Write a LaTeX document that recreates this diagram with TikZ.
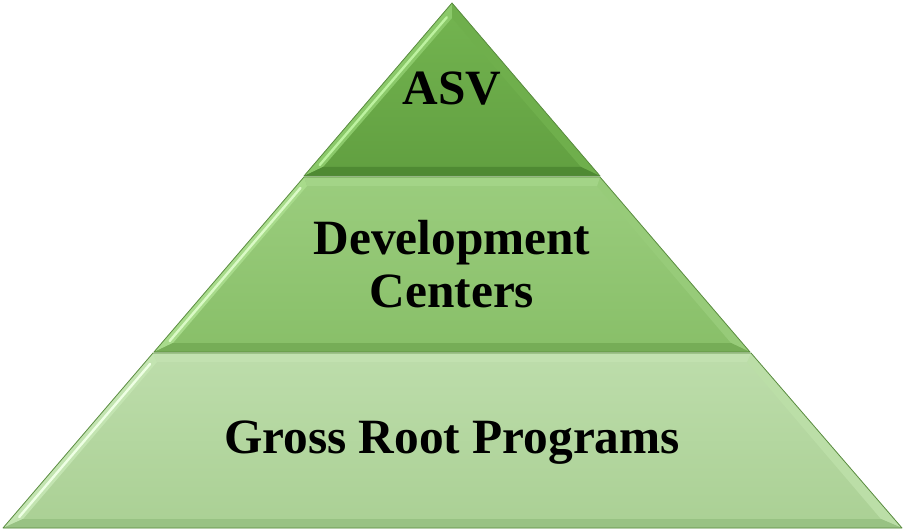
\documentclass[tikz,border=0pt]{standalone}
\usepackage{fontspec}
\setmainfont{Liberation Serif}
\usetikzlibrary{positioning,calc}
\definecolor{edgegreen}{HTML}{5A8C40}
\definecolor{atop}{HTML}{74B551}
\definecolor{abot}{HTML}{619F40}
\definecolor{alft}{HTML}{8BC96A}
\definecolor{argt}{HTML}{6FAF4C}
\definecolor{abtm}{HTML}{4F8A33}
\definecolor{atp}{HTML}{7DBD5A}
\definecolor{ahi}{HTML}{BDF2A0}
\definecolor{btop}{HTML}{9BCD7E}
\definecolor{bbot}{HTML}{88BF68}
\definecolor{blft}{HTML}{A8DB8B}
\definecolor{brgt}{HTML}{97CB79}
\definecolor{bbtm}{HTML}{76AD57}
\definecolor{btp}{HTML}{A3D487}
\definecolor{bhi}{HTML}{DAFAC6}
\definecolor{ctop}{HTML}{BDDDAB}
\definecolor{cbot}{HTML}{AAD094}
\definecolor{clft}{HTML}{C3E4B1}
\definecolor{crgt}{HTML}{BBDEA7}
\definecolor{cbtm}{HTML}{98C283}
\definecolor{ctp}{HTML}{C2E1B0}
\definecolor{chi}{HTML}{EEFFE4}
\tikzstyle{tier} = [draw=edgegreen, line width=0.6pt, line join=round]
\tikzstyle{label} = [font=\fontsize{37}{40}\selectfont\bfseries, align=center, text=black, inner sep=0pt]
% one bevelled layer: #1 = coordinate prefix, #2 = colour prefix
\newcommand{\pyrlayer}[2]{%
  \shade[top color=#2top, bottom color=#2bot] (#1otl) -- (#1otr) -- (#1obr) -- (#1obl) -- cycle;
  \fill[#2lft] (#1otl) -- (#1itl) -- (#1ibl) -- (#1obl) -- cycle;
  \fill[#2rgt] (#1otr) -- (#1itr) -- (#1ibr) -- (#1obr) -- cycle;
  \fill[#2btm] (#1obl) -- (#1ibl) -- (#1ibr) -- (#1obr) -- cycle;
  \fill[#2tp] (#1otl) -- (#1itl) -- (#1itr) -- (#1otr) -- cycle;
  \draw[#2hi, line width=1.8pt, line cap=round, shorten <=6pt, shorten >=6pt] ($(#1obl)!0.55!(#1ibl)$) -- ($(#1otl)!0.55!(#1itl)$);
  \draw[tier] (#1otl) -- (#1otr) -- (#1obr) -- (#1obl) -- cycle;
}

\begin{document}
\begin{tikzpicture}[x=0.75pt, y=-0.75pt]
\useasboundingbox (0,0) rectangle (904,531);
% Top layer (triangle)
    \coordinate (aotl) at (452,3);   \coordinate (aotr) at (452,3);
    \coordinate (aobl) at (304,176); \coordinate (aobr) at (600,176);
    \coordinate (aitl) at (452,18);  \coordinate (aitr) at (452,18);
    \coordinate (aibl) at (323,167); \coordinate (aibr) at (581,167);
% Middle layer
    \coordinate (botl) at (304,177); \coordinate (botr) at (600,177);
    \coordinate (bobl) at (154,352); \coordinate (bobr) at (750,352);
    \coordinate (bitl) at (307,186); \coordinate (bitr) at (597,186);
    \coordinate (bibl) at (173,343); \coordinate (bibr) at (731,343);
% Bottom layer
    \coordinate (cotl) at (153,353); \coordinate (cotr) at (751,353);
    \coordinate (cobl) at (3,528);   \coordinate (cobr) at (902,528);
    \coordinate (citl) at (157,362); \coordinate (citr) at (747,362);
    \coordinate (cibl) at (23,519);  \coordinate (cibr) at (881,519);

    \pyrlayer{c}{c}
    \pyrlayer{b}{b}
    \pyrlayer{a}{a}

% Labels
    \node [label, anchor=base] (asv) at (452,105) {ASV};
    \node [label] (centers) at (452,264) {Development\\Centers};
    \node [label, anchor=base] (roots) at (452,453) {Gross Root Programs};
\end{tikzpicture}
\end{document}
